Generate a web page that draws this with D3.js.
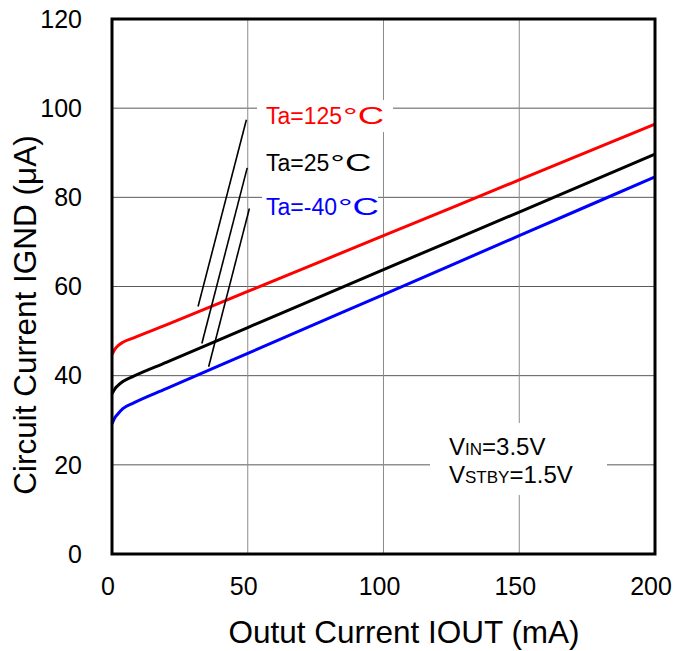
<!DOCTYPE html>
<html><head><meta charset="utf-8">
<script src="https://cdn.jsdelivr.net/npm/d3@7"></script>
<style>body{margin:0;background:#fff}svg{display:block}text{font-family:"Liberation Sans",Arial,sans-serif}</style>
</head><body><svg id="c" width="675" height="651"></svg>
<script>
const xTicks = [0, 50, 100, 150, 200];
const yTicks = [0, 20, 40, 60, 80, 100, 120];
const iout = [0, 1, 2, 4, 8, 20, 50, 100, 150, 200];
const ignd125 = [44.7, 45.9, 46.6, 47.5, 48.5, 51.4, 58.9, 71.4, 83.9, 96.4];
const ignd25 = [35.9, 37.0, 37.7, 38.7, 39.9, 43.0, 50.8, 63.8, 76.7, 89.7];
const igndM40 = [29.2, 30.5, 31.3, 32.6, 33.9, 37.1, 45.0, 58.2, 71.4, 84.6];
const seriesNames = ["Ta=125", "Ta=25", "Ta=-40"];
const seriesColors = ["#ff0000", "#000000", "#0000ff"];
// leader line endpoints in data units [x1,y1,x2,y2]
const leaders = [[49.5, 97.4, 31.7, 55.5], [49.8, 86.6, 33.1, 47.2], [50.6, 77.5, 35.6, 42.0]];

const svg = d3.select("#c");
const L = 112, R = 655, T = 19, B = 554;
const x = d3.scaleLinear().domain([0, 200]).range([L, R]);
const y = d3.scaleLinear().domain([0, 120]).range([B, T]);

// grid
svg.append("g").selectAll("line").data(yTicks.slice(1, -1)).join("line")
  .attr("x1", L).attr("x2", R).attr("y1", d => y(d)).attr("y2", d => y(d))
  .attr("stroke", "#5a5a5a").attr("stroke-width", 1);
svg.append("g").selectAll("line").data(xTicks.slice(1, -1)).join("line")
  .attr("y1", T).attr("y2", B).attr("x1", d => x(d)).attr("x2", d => x(d))
  .attr("stroke", "#8c8c8c").attr("stroke-width", 1);

// white boxes behind labels
svg.append("rect").attr("x", 257).attr("y", 100).attr("width", 136).attr("height", 32).attr("fill", "#fff");
svg.append("rect").attr("x", 262).attr("y", 146).attr("width", 110).attr("height", 32).attr("fill", "#fff");
svg.append("rect").attr("x", 262).attr("y", 190).attr("width", 116).attr("height", 32).attr("fill", "#fff");
svg.append("rect").attr("x", 430).attr("y", 423).attr("width", 177).attr("height", 72).attr("fill", "#fff");

// curves
const line = d3.line().x((d, i) => x(iout[i])).y(d => y(d)).curve(d3.curveMonotoneX);
[ignd125, ignd25, igndM40].forEach((s, k) => {
  svg.append("path").attr("d", line(s)).attr("fill", "none")
    .attr("stroke", seriesColors[k]).attr("stroke-width", 3);
});

// leaders
svg.append("g").selectAll("line").data(leaders).join("line")
  .attr("x1", d => x(d[0])).attr("y1", d => y(d[1])).attr("x2", d => x(d[2])).attr("y2", d => y(d[3]))
  .attr("stroke", "#000").attr("stroke-width", 1.6);

// labels
const labelY = [124, 171, 215];
seriesNames.forEach((n, k) => {
  const t = svg.append("text").attr("x", 266).attr("y", labelY[k]).attr("font-size", 23)
    .attr("fill", seriesColors[k]).text(n);
  const w = t.node().getComputedTextLength();
  svg.append("text").attr("x", 266 + w + 1).attr("y", labelY[k]).attr("font-size", 23)
    .attr("fill", seriesColors[k])
    .attr("textLength", 41).attr("lengthAdjust", "spacingAndGlyphs").text("\u00b0C");
});

// conditions
const c1 = svg.append("text").attr("x", 449).attr("y", 455).attr("font-size", 24).attr("fill", "#000");
c1.append("tspan").text("V");
c1.append("tspan").attr("font-size", 17).text("IN");
c1.append("tspan").text("=3.5V");
const c2 = svg.append("text").attr("x", 449).attr("y", 483).attr("font-size", 24).attr("fill", "#000");
c2.append("tspan").text("V");
c2.append("tspan").attr("font-size", 17).text("STBY");
c2.append("tspan").text("=1.5V");

// frame
svg.append("rect").attr("x", L).attr("y", T).attr("width", R - L).attr("height", B - T)
  .attr("fill", "none").attr("stroke", "#000").attr("stroke-width", 3);

// axes tick labels
svg.append("g").selectAll("text").data(yTicks).join("text")
  .attr("x", 82).attr("y", d => y(d)).attr("dy", "0.35em").attr("text-anchor", "end")
  .attr("font-size", 25).text(d => d);
svg.append("g").selectAll("text").data(xTicks).join("text")
  .attr("x", d => x(d) - 4).attr("y", 595).attr("text-anchor", "middle")
  .attr("font-size", 25).text(d => d);

// titles
svg.append("text").attr("x", 404).attr("y", 643).attr("text-anchor", "middle")
  .attr("font-size", 31.5).text("Outut Current IOUT (mA)");
svg.append("text").attr("transform", "translate(36,315) rotate(-90)").attr("text-anchor", "middle")
  .attr("font-size", 31.5).text("Circuit Current IGND (\u03bcA)");
</script></body></html>
